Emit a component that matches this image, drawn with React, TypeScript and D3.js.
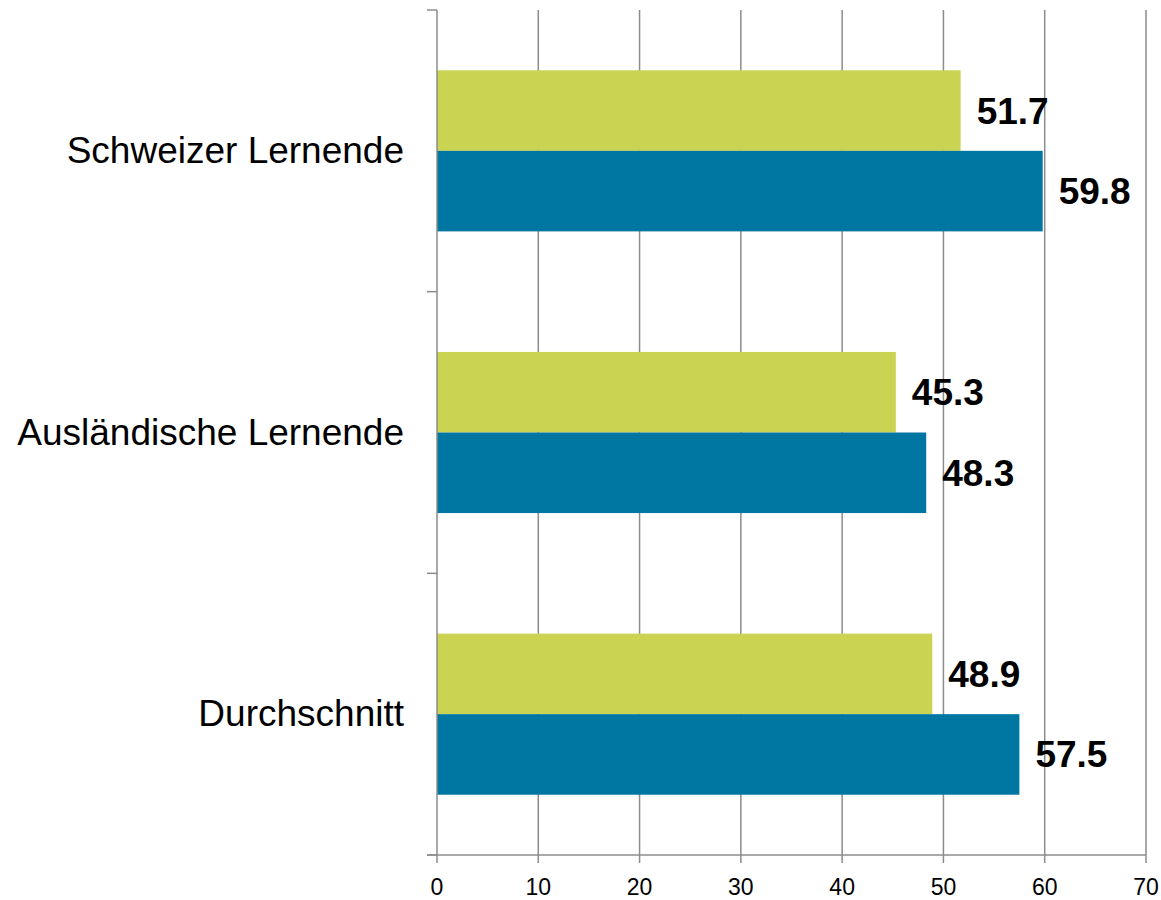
import { useEffect, useRef } from 'react'
import * as d3 from 'd3'

const categories = ['Schweizer Lernende', 'Ausländische Lernende', 'Durchschnitt']
const greenValues = [51.7, 45.3, 48.9]
const blueValues = [59.8, 48.3, 57.5]
const xTicks = [0, 10, 20, 30, 40, 50, 60, 70]

const width = 1161
const height = 900
const margins = { top: 10, right: 15, bottom: 45, left: 437 }

const green = '#cbd452'
const blue = '#0076a3'
const grid = '#8c8c8c'

export default function App() {
	const ref = useRef<SVGSVGElement>(null)

	useEffect(() => {
		const svg = d3.select(ref.current)
		svg.selectAll('*').remove()

		const x = d3.scaleLinear().domain([0, 70]).range([margins.left, width - margins.right])
		const y = d3
			.scaleBand()
			.domain(categories)
			.range([margins.top, height - margins.bottom])
			.paddingInner(0.428)
			.paddingOuter(0.214)
		const inner = d3.scaleBand().domain(['green', 'blue']).range([0, y.bandwidth()])

		const yTop = margins.top
		const yBottom = height - margins.bottom
		const step = y.step()

		// vertical gridlines
		svg
			.append('g')
			.selectAll('line')
			.data(xTicks.slice(1))
			.enter()
			.append('line')
			.attr('x1', (d) => x(d))
			.attr('x2', (d) => x(d))
			.attr('y1', yTop)
			.attr('y2', yBottom + 8)
			.attr('stroke', grid)
			.attr('stroke-width', 1.5)

		// bars
		const rows = categories.map((c, i) => ({ c, g: greenValues[i], b: blueValues[i] }))
		const groups = svg
			.append('g')
			.selectAll('g')
			.data(rows)
			.enter()
			.append('g')
			.attr('transform', (d) => 'translate(0,' + (y(d.c) as number) + ')')

		groups
			.append('rect')
			.attr('x', x(0))
			.attr('y', inner('green') as number)
			.attr('width', (d) => x(d.g) - x(0))
			.attr('height', inner.bandwidth())
			.attr('fill', green)
		groups
			.append('rect')
			.attr('x', x(0))
			.attr('y', inner('blue') as number)
			.attr('width', (d) => x(d.b) - x(0))
			.attr('height', inner.bandwidth())
			.attr('fill', blue)

		// value labels
		const labelFont = 'bold 37px "Liberation Sans", Arial, sans-serif'
		groups
			.append('text')
			.attr('x', (d) => x(d.g) + 16)
			.attr('y', (inner('green') as number) + inner.bandwidth() / 2 + 13)
			.style('font', labelFont)
			.text((d) => d.g.toFixed(1))
		groups
			.append('text')
			.attr('x', (d) => x(d.b) + 16)
			.attr('y', (inner('blue') as number) + inner.bandwidth() / 2 + 13)
			.style('font', labelFont)
			.text((d) => d.b.toFixed(1))

		// y axis line and ticks
		svg
			.append('line')
			.attr('x1', x(0))
			.attr('x2', x(0))
			.attr('y1', yTop)
			.attr('y2', yBottom + 8)
			.attr('stroke', grid)
			.attr('stroke-width', 1.5)
		svg
			.append('g')
			.selectAll('line')
			.data(d3.range(categories.length + 1))
			.enter()
			.append('line')
			.attr('x1', x(0) - 10)
			.attr('x2', x(0))
			.attr('y1', (i) => yTop + i * step)
			.attr('y2', (i) => yTop + i * step)
			.attr('stroke', grid)
			.attr('stroke-width', 1.5)

		// x axis line
		svg
			.append('line')
			.attr('x1', x(0) - 10)
			.attr('x2', x(70))
			.attr('y1', yBottom)
			.attr('y2', yBottom)
			.attr('stroke', grid)
			.attr('stroke-width', 1.5)

		// x tick labels
		svg
			.append('g')
			.selectAll('text')
			.data(xTicks)
			.enter()
			.append('text')
			.attr('x', (d) => x(d))
			.attr('y', yBottom + 40)
			.attr('text-anchor', 'middle')
			.style('font', '23px "Liberation Sans", Arial, sans-serif')
			.text((d) => d)

		// category labels
		svg
			.append('g')
			.selectAll('text')
			.data(categories)
			.enter()
			.append('text')
			.attr('x', x(0) - 33)
			.attr('y', (d) => (y(d) as number) + y.bandwidth() / 2 + 12)
			.attr('text-anchor', 'end')
			.style('font', '37px "Liberation Sans", Arial, sans-serif')
			.text((d) => d)
	}, [])

	return (
		<svg
			ref={ref}
			width={width}
			height={height}
			style={{ position: 'absolute', left: 0, top: 0, background: '#fff' }}
		/>
	)
}
